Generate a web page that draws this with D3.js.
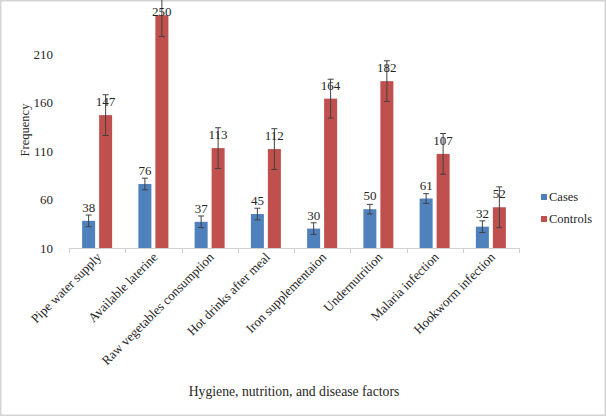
<!DOCTYPE html>
<html>
<head>
<meta charset="utf-8">
<script src="https://cdn.jsdelivr.net/npm/d3@7"></script>
<style>
  body { margin: 0; background: #fff; }
  svg { display: block; font-family: "Liberation Serif", "Times New Roman", serif; }
</style>
</head>
<body>
<div id="chart"></div>
<script>
const categories = ['Pipe water supply', 'Available laterine', 'Raw vegetables consumption',
  'Hot drinks after meal', 'Iron supplementaion', 'Undernutrition', 'Malaria infection', 'Hookworm infection'];
const series = ['Cases', 'Controls'];
const cases = [38, 76, 37, 45, 30, 50, 61, 32];
const controls = [147, 250, 113, 112, 164, 182, 107, 52];
const casesErr = [6, 6, 6, 6, 6, 5, 5, 6];
const controlsErr = [21, 22, 21, 21, 20, 21, 21, 21];
const yTicks = [10, 60, 110, 160, 210];
const colors = ['#4f81bd', '#c0504d'];

const width = 606, height = 416;
const svg = d3.select('#chart').append('svg')
  .attr('width', width).attr('height', height);

// outer frame
svg.append('rect')
  .attr('x', 0.75).attr('y', 0.75)
  .attr('width', width - 1.5).attr('height', height - 1.5)
  .attr('fill', '#fff').attr('stroke', '#d4d4d4').attr('stroke-width', 1.5);

const x0 = d3.scaleBand().domain(categories).range([69, 519]);
const x1 = d3.scaleBand().domain(series).range([0, x0.bandwidth()])
  .paddingInner(0.235).paddingOuter(0.772);
const y = d3.scaleLinear().domain([10, 260]).range([248, 5.5]);

// build rows
const rows = categories.map((c, i) => ({
  cat: c,
  vals: [
    { s: 'Cases', v: cases[i], e: casesErr[i] },
    { s: 'Controls', v: controls[i], e: controlsErr[i] }
  ]
}));

// y tick labels (no axis line)
svg.append('g').selectAll('text')
  .data(yTicks).enter().append('text')
  .attr('x', 53).attr('y', d => y(d)).attr('dy', '0.35em')
  .attr('text-anchor', 'end')
  .style('font-size', '13px').attr('fill', '#262626')
  .text(d => d);

// x axis line and ticks
const xAxisG = svg.append('g');
xAxisG.append('line')
  .attr('x1', 69).attr('x2', 519).attr('y1', y(10) + 0.5).attr('y2', y(10) + 0.5)
  .attr('stroke', '#d0d0d0');
const bounds = categories.map(c => x0(c)).concat([519]);
xAxisG.selectAll('.tick')
  .data(bounds).enter().append('line')
  .attr('x1', d => Math.round(d) + 0.5).attr('x2', d => Math.round(d) + 0.5)
  .attr('y1', y(10)).attr('y2', y(10) + 5)
  .attr('stroke', '#d0d0d0');

// bars
const group = svg.append('g').selectAll('g')
  .data(rows).enter().append('g')
  .attr('transform', d => `translate(${x0(d.cat)},0)`);

group.selectAll('rect')
  .data(d => d.vals).enter().append('rect')
  .attr('x', d => x1(d.s))
  .attr('y', d => y(d.v))
  .attr('width', x1.bandwidth())
  .attr('height', d => y(10) - y(d.v))
  .attr('fill', (d, i) => colors[i]);

// error bars
const err = group.selectAll('g.err')
  .data(d => d.vals).enter().append('g')
  .attr('class', 'err')
  .attr('stroke', '#404040').attr('stroke-width', 1);
err.append('line')
  .attr('x1', d => x1(d.s) + x1.bandwidth() / 2)
  .attr('x2', d => x1(d.s) + x1.bandwidth() / 2)
  .attr('y1', d => y(d.v - d.e)).attr('y2', d => y(d.v + d.e));
err.append('line')
  .attr('x1', d => x1(d.s) + x1.bandwidth() / 2 - 3)
  .attr('x2', d => x1(d.s) + x1.bandwidth() / 2 + 3)
  .attr('y1', d => y(d.v + d.e)).attr('y2', d => y(d.v + d.e));
err.append('line')
  .attr('x1', d => x1(d.s) + x1.bandwidth() / 2 - 3)
  .attr('x2', d => x1(d.s) + x1.bandwidth() / 2 + 3)
  .attr('y1', d => y(d.v - d.e)).attr('y2', d => y(d.v - d.e));

// value labels (kept inside the frame at the top)
group.selectAll('text')
  .data(d => d.vals).enter().append('text')
  .attr('x', d => x1(d.s) + x1.bandwidth() / 2)
  .attr('y', d => Math.max(y(d.v) - 9, 16))
  .attr('text-anchor', 'middle')
  .style('font-size', '13px').attr('fill', '#262626')
  .text(d => d.v);

// category labels, rotated
svg.append('g').selectAll('text')
  .data(categories).enter().append('text')
  .attr('text-anchor', 'end')
  .attr('transform', d => `translate(${x0(d) + x0.bandwidth() / 2 + 5},${y(10) + 10}) rotate(-45)`)
  .style('font-size', '13px').attr('fill', '#262626')
  .text(d => d);

// axis titles
svg.append('text')
  .attr('transform', 'translate(29,130) rotate(-90)')
  .attr('text-anchor', 'middle')
  .style('font-size', '12.5px').attr('fill', '#262626')
  .text('Frequency');

svg.append('text')
  .attr('x', 294).attr('y', 396)
  .attr('text-anchor', 'middle')
  .style('font-size', '13.7px').attr('fill', '#262626')
  .text('Hygiene, nutrition, and disease factors');

// legend
const legend = svg.append('g').selectAll('g')
  .data(series).enter().append('g')
  .attr('transform', (d, i) => `translate(541,${197 + i * 22})`);
legend.append('rect')
  .attr('x', 0).attr('y', -3).attr('width', 6).attr('height', 6)
  .attr('fill', (d, i) => colors[i]);
legend.append('text')
  .attr('x', 8).attr('dy', '0.35em')
  .style('font-size', '12.5px').attr('fill', '#262626')
  .text(d => d);
</script>
</body>
</html>
